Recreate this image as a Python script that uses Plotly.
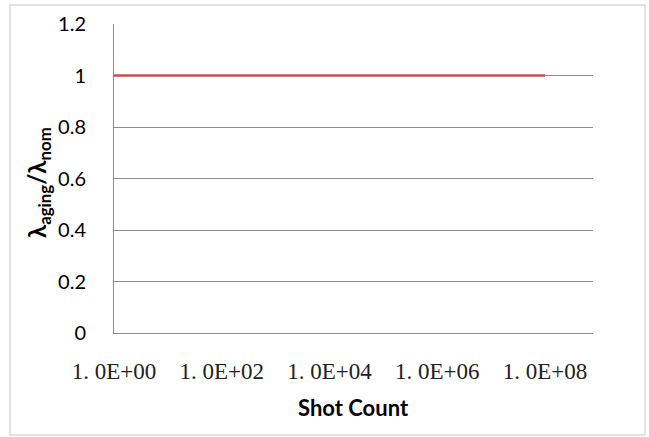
import plotly.graph_objects as go

# Normalised wavelength versus shot count (log scale)
shot_count = [1, 1e1, 1e2, 1e3, 1e4, 1e5, 1e6, 1e7, 1e8]
lambda_ratio = [1.0, 1.0, 1.0, 1.0, 1.0, 1.0, 1.0, 1.0, 1.0]

y_ticks = [0, 0.2, 0.4, 0.6, 0.8, 1.0, 1.2]
y_tick_labels = ["0", "0.2", "0.4", "0.6", "0.8", "1", "1.2"]
x_ticks = [1, 1e2, 1e4, 1e6, 1e8]
x_tick_labels = ["1. 0E+00", "1. 0E+02", "1. 0E+04", "1. 0E+06", "1. 0E+08"]

W, H = 649, 437
L, R, T, B = 114, 593, 24, 333
pw, ph = R - L, B - T

grid = "#8c8c8c"

fig = go.Figure()
fig.add_trace(go.Scatter(
    x=shot_count, y=lambda_ratio, mode="lines",
    line=dict(color="#C0504D", width=2.5),
    showlegend=False, hoverinfo="skip",
))

def px_x(x):
    return (x - L) / pw

def px_y(y):
    return (B - y) / ph

fig.update_layout(
    width=W, height=H,
    margin=dict(l=L, r=W - R, t=T, b=H - B),
    paper_bgcolor="white", plot_bgcolor="white",
    xaxis=dict(
        type="log", range=[0, 8.89],
        tickvals=x_ticks, ticktext=x_tick_labels,
        showgrid=False, zeroline=False,
        showline=True, linecolor=grid, linewidth=1,
        ticks="", ticklabelstandoff=17,
        tickfont=dict(family="Liberation Serif", size=23, color="#222222"),
    ),
    yaxis=dict(
        range=[0, 1.2], tickvals=y_ticks, ticktext=y_tick_labels,
        showgrid=True, gridcolor=grid, gridwidth=1, zeroline=False,
        showline=True, linecolor=grid, linewidth=1,
        ticks="", ticklabelstandoff=23,
        tickfont=dict(family="Lato", size=20, color="#000000"),
    ),
    shapes=[dict(
        type="rect", xref="paper", yref="paper",
        x0=px_x(10), x1=px_x(645), y0=px_y(435), y1=px_y(5),
        line=dict(color="#d9d9d9", width=1.5), fillcolor="rgba(0,0,0,0)",
        layer="below",
    )],
    annotations=[
        dict(
            text="<b>Shot Count</b>", xref="paper", yref="paper",
            x=px_x(353), y=px_y(408), showarrow=False,
            xanchor="center", yanchor="middle",
            font=dict(family="Lato", size=22, color="#000000"),
        ),
        dict(
            text="<b>λ<sub>aging</sub>/λ<sub>nom</sub></b>", xref="paper", yref="paper",
            x=px_x(38), y=px_y(183), showarrow=False, textangle=-90,
            xanchor="center", yanchor="middle",
            font=dict(family="Lato", size=24, color="#000000"),
        ),
    ],
)

fig.write_html("out.html")
